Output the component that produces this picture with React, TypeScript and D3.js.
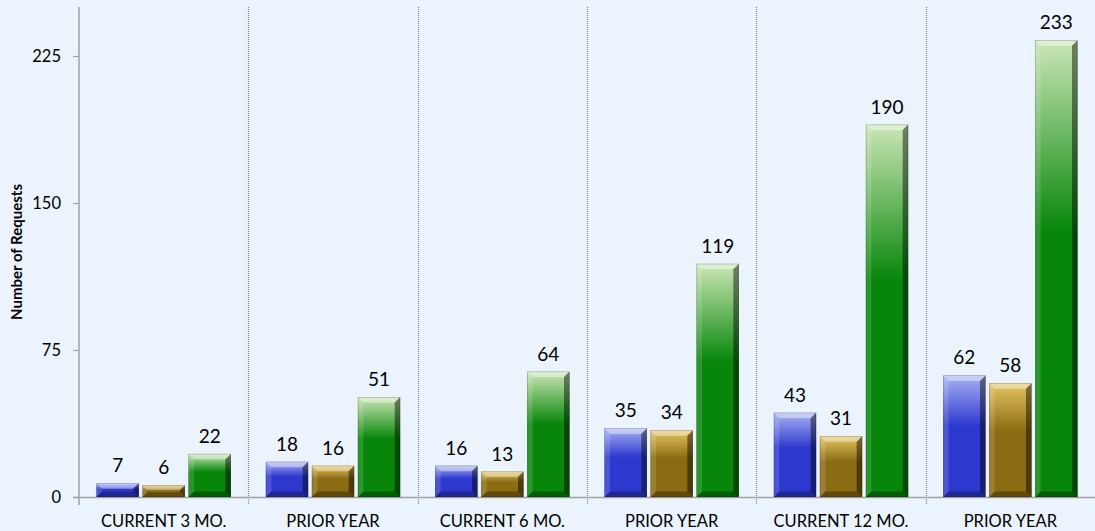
import React from "react";
import * as d3 from "d3";

const categories = ["CURRENT 3 MO.", "PRIOR YEAR", "CURRENT 6 MO.", "PRIOR YEAR", "CURRENT 12 MO.", "PRIOR YEAR"];
const seriesBlue = [7, 18, 16, 35, 43, 62];
const seriesGold = [6, 16, 13, 34, 31, 58];
const seriesGreen = [22, 51, 64, 119, 190, 233];
const yTicks = [0, 75, 150, 225];
const yLabel = "Number of Requests";

const W = 1095;
const H = 531;
const FONT = "Lato, 'Open Sans', sans-serif";

const palette = [
  { id: "blue", top: "#a8b2f2", base: "#2d38cf" },
  { id: "gold", top: "#e6c462", base: "#8b6c12" },
  { id: "green", top: "#cbe7b6", base: "#07860a" },
];

function Bar({ x, y, w, h, fill }: { x: number; y: number; w: number; h: number; fill: string }) {
  const b = Math.min(5.5, h / 2.5, w / 4);
  const x2 = x + w;
  const y2 = y + h;
  return (
    <g>
      <rect x={x} y={y} width={w} height={h} fill={fill} />
      <polygon points={`${x},${y} ${x2},${y} ${x2 - b},${y + b} ${x + b},${y + b}`} fill="#ffffff" opacity={0.4} />
      <polygon points={`${x},${y} ${x + b},${y + b} ${x + b},${y2 - b} ${x},${y2}`} fill="#ffffff" opacity={0.14} />
      <polygon points={`${x2},${y} ${x2},${y2} ${x2 - b},${y2 - b} ${x2 - b},${y + b}`} fill="#000000" opacity={0.45} />
      <polygon points={`${x},${y2} ${x + b},${y2 - b} ${x2 - b},${y2 - b} ${x2},${y2}`} fill="#000000" opacity={0.3} />
      <rect x={x + 0.25} y={y + 0.25} width={w - 0.5} height={h - 0.5} fill="none" stroke="#000" strokeOpacity={0.3} strokeWidth={0.6} />
    </g>
  );
}

export default function App() {
  const left = 79;
  const right = 1095;
  const baseY = 497;
  const topY = 7;

  const y = d3.scaleLinear().domain([0, 250]).range([baseY, topY]);
  const x0 = d3
    .scaleBand<number>()
    .domain(categories.map((_, i) => i))
    .range([left, right])
    .padding(0);
  const x1 = d3
    .scaleBand<number>()
    .domain([0, 1, 2])
    .range([0, x0.bandwidth()])
    .paddingInner(0.08)
    .paddingOuter(0.38);

  const series = [seriesBlue, seriesGold, seriesGreen];

  return (
    <svg width={W} height={H} style={{ position: "absolute", left: 0, top: 0 }} fontFamily={FONT}>
      <defs>
        {palette.map((p) => (
          <linearGradient key={p.id} id={`grad-${p.id}`} x1="0" y1="0" x2="0" y2="1">
            <stop offset="0" stopColor={p.top} />
            <stop offset="0.42" stopColor={p.base} />
            <stop offset="1" stopColor={p.base} />
          </linearGradient>
        ))}
      </defs>
      <rect x={0} y={0} width={W} height={H} fill="#ebf4fc" />

      {categories.slice(1).map((_, i) => {
        const xx = Math.round(x0(i + 1)!) + 0.5;
        return (
          <line key={i} x1={xx} x2={xx} y1={topY} y2={baseY + 8} stroke="#858585" strokeWidth={1.2} strokeDasharray="1,1" />
        );
      })}

      <line x1={left - 6} x2={right} y1={baseY + 0.5} y2={baseY + 0.5} stroke="#a0a0a0" strokeWidth={1.5} />
      <line x1={left} x2={left} y1={topY} y2={baseY + 8} stroke="#a0a0a0" strokeWidth={1.5} />
      {yTicks.map((t) => (
        <g key={t}>
          <line x1={left - 6} x2={left} y1={y(t) + 0.5} y2={y(t) + 0.5} stroke="#a0a0a0" strokeWidth={1.2} />
          <text x={61} y={y(t)} dy="0.35em" textAnchor="end" fontSize={16.5} fill="#000">
            {t}
          </text>
        </g>
      ))}

      <text
        transform={`translate(22, 252) rotate(-90)`}
        textAnchor="middle"
        fontSize={15}
        fontWeight="bold"
        fill="#000"
      >
        {yLabel}
      </text>

      {categories.map((_, ci) => (
        <g key={ci}>
          {series.map((s, si) => {
            const v = s[ci];
            const bx = x0(ci)! + x1(si)!;
            const bw = x1.bandwidth();
            const by = y(v);
            const bh = baseY - by;
            return (
              <g key={si}>
                <Bar x={bx} y={by} w={bw} h={bh} fill={`url(#grad-${palette[si].id})`} />
                <text x={bx + bw / 2} y={by - 11} textAnchor="middle" fontSize={19} fill="#000">
                  {v}
                </text>
              </g>
            );
          })}
          <text x={x0(ci)! + x0.bandwidth() / 2} y={527} textAnchor="middle" fontSize={16.5} fill="#000">
            {categories[ci]}
          </text>
        </g>
      ))}
    </svg>
  );
}
